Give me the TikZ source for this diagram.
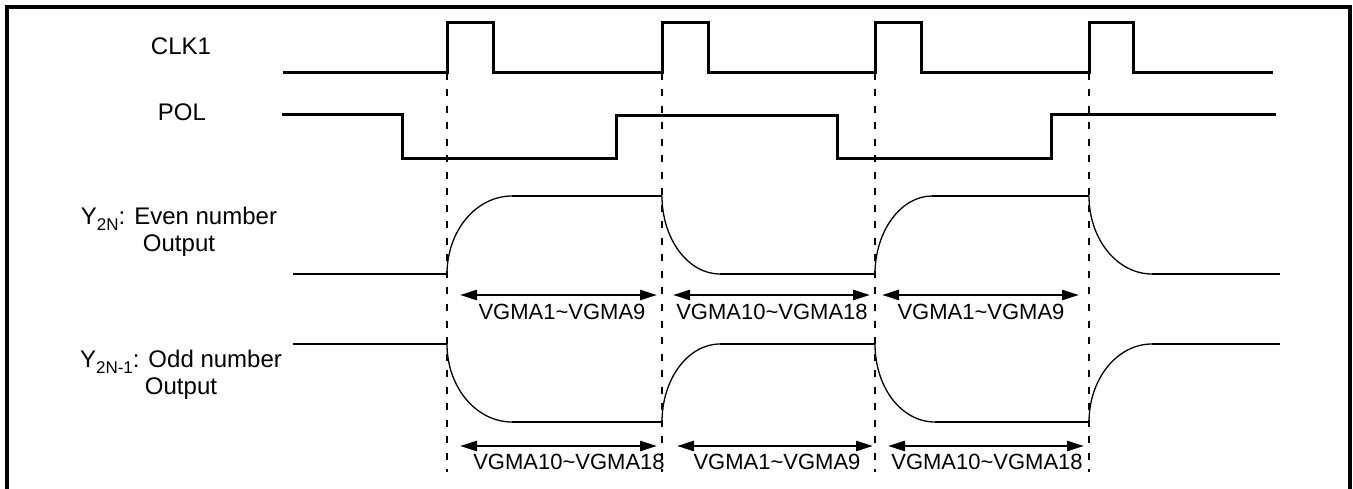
\documentclass[tikz,border=0pt]{standalone}
\usepackage{fontspec}
\setmainfont{Liberation Sans}
\usetikzlibrary{arrows.meta}
\newcommand{\lowsub}[1]{\raisebox{-5.5pt}{\fontsize{17}{17}\selectfont #1}}
\begin{document}
\begin{tikzpicture}[x=1pt,y=-1pt,
  sig/.style={line width=3pt},
  wave/.style={line width=2.6pt},
  curv/.style={line width=1.3pt},
  guide/.style={line width=2.8pt,dash pattern=on 7pt off 9.5pt},
  dim/.style={line width=2.6pt,{Triangle[length=17pt,width=10pt]}-{Triangle[length=17pt,width=10pt]}},
  lbl/.style={font=\fontsize{24}{27}\selectfont,align=center,inner sep=0pt},
  vg/.style={font=\fontsize{22}{24}\selectfont,inner sep=0pt}]
\useasboundingbox (0,0) rectangle (1353,489);
% frame
\draw[line width=3.2pt] (7,492) -- (7,7) -- (1350,7) -- (1350,492);
% labels
\node[lbl] (clk) at (181,46) {CLK1};
\node[lbl] (pol) at (182,112) {POL};
\node[lbl] (yev) at (179,232) {Y\lowsub{2N}: Even number\\Output};
\node[lbl] (yod) at (181,375) {Y\lowsub{2N-1}: Odd number\\Output};
% CLK1
\draw[sig] (283,73) -- (447,73) -- (447,23) -- (493,23) -- (493,73) -- (662,73) -- (662,23) -- (708,23) -- (708,73)
  -- (875,73) -- (875,23) -- (921,23) -- (921,73) -- (1089,73) -- (1089,23) -- (1133,23) -- (1133,73) -- (1273,73);
% POL
\draw[sig] (282,115) -- (402,115) -- (402,159) -- (616,159) -- (616,116) -- (837,116) -- (837,159) -- (1051,159) -- (1051,115) -- (1276,115);
% guides
\foreach \x/\n in {447/a,662/b,875/c,1089/d}{
  \coordinate (t\n) at (\x,73);
  \coordinate (b\n) at (\x,472);
  \draw[guide] (t\n) -- (b\n);
}
% Y2N even
\draw[wave] (293,274) -- (447,274);
\draw[curv] (447,274) .. controls (447,231) and (476,196) .. (512,196);
\draw[wave] (512,196) -- (662,196);
\draw[curv] (662,196) .. controls (662,239) and (688,274) .. (720,274);
\draw[wave] (720,274) -- (875,274);
\draw[curv] (875,274) .. controls (875,231) and (901,196) .. (932,196);
\draw[wave] (932,196) -- (1089,196);
\draw[curv] (1089,196) .. controls (1089,239) and (1117,274) .. (1152,274);
\draw[wave] (1152,274) -- (1280,274);
% Y2N-1 odd
\draw[wave] (293,344) -- (447,344);
\draw[curv] (447,344) .. controls (447,387) and (476,422) .. (512,422);
\draw[wave] (512,422) -- (662,422);
\draw[curv] (662,422) .. controls (662,379) and (688,344) .. (720,344);
\draw[wave] (720,344) -- (875,344);
\draw[curv] (875,344) .. controls (875,387) and (901,422) .. (935,422);
\draw[wave] (935,422) -- (1089,422);
\draw[curv] (1089,422) .. controls (1089,379) and (1117,344) .. (1152,344);
\draw[wave] (1152,344) -- (1280,344);
% dimension arrows row 1
\coordinate (p1a) at (460,295); \coordinate (p1b) at (657,295);
\coordinate (p2a) at (673,295); \coordinate (p2b) at (870,295);
\coordinate (p3a) at (882,295); \coordinate (p3b) at (1079,295);
\draw[dim] (p1a) -- (p1b);
\draw[dim] (p2a) -- (p2b);
\draw[dim] (p3a) -- (p3b);
\node[vg] (l1) at (562,312) {VGMA1\textasciitilde VGMA9};
\node[vg] (l2) at (772,312) {VGMA10\textasciitilde VGMA18};
\node[vg] (l3) at (981,312) {VGMA1\textasciitilde VGMA9};
% dimension arrows row 2
\coordinate (q1a) at (460,446); \coordinate (q1b) at (657,446);
\coordinate (q2a) at (677,446); \coordinate (q2b) at (873,446);
\coordinate (q3a) at (888,446); \coordinate (q3b) at (1084,446);
\draw[dim] (q1a) -- (q1b);
\draw[dim] (q2a) -- (q2b);
\draw[dim] (q3a) -- (q3b);
\node[vg] (m1) at (569,462) {VGMA10\textasciitilde VGMA18};
\node[vg] (m2) at (777,462) {VGMA1\textasciitilde VGMA9};
\node[vg] (m3) at (987,462) {VGMA10\textasciitilde VGMA18};
\end{tikzpicture}
\end{document}
